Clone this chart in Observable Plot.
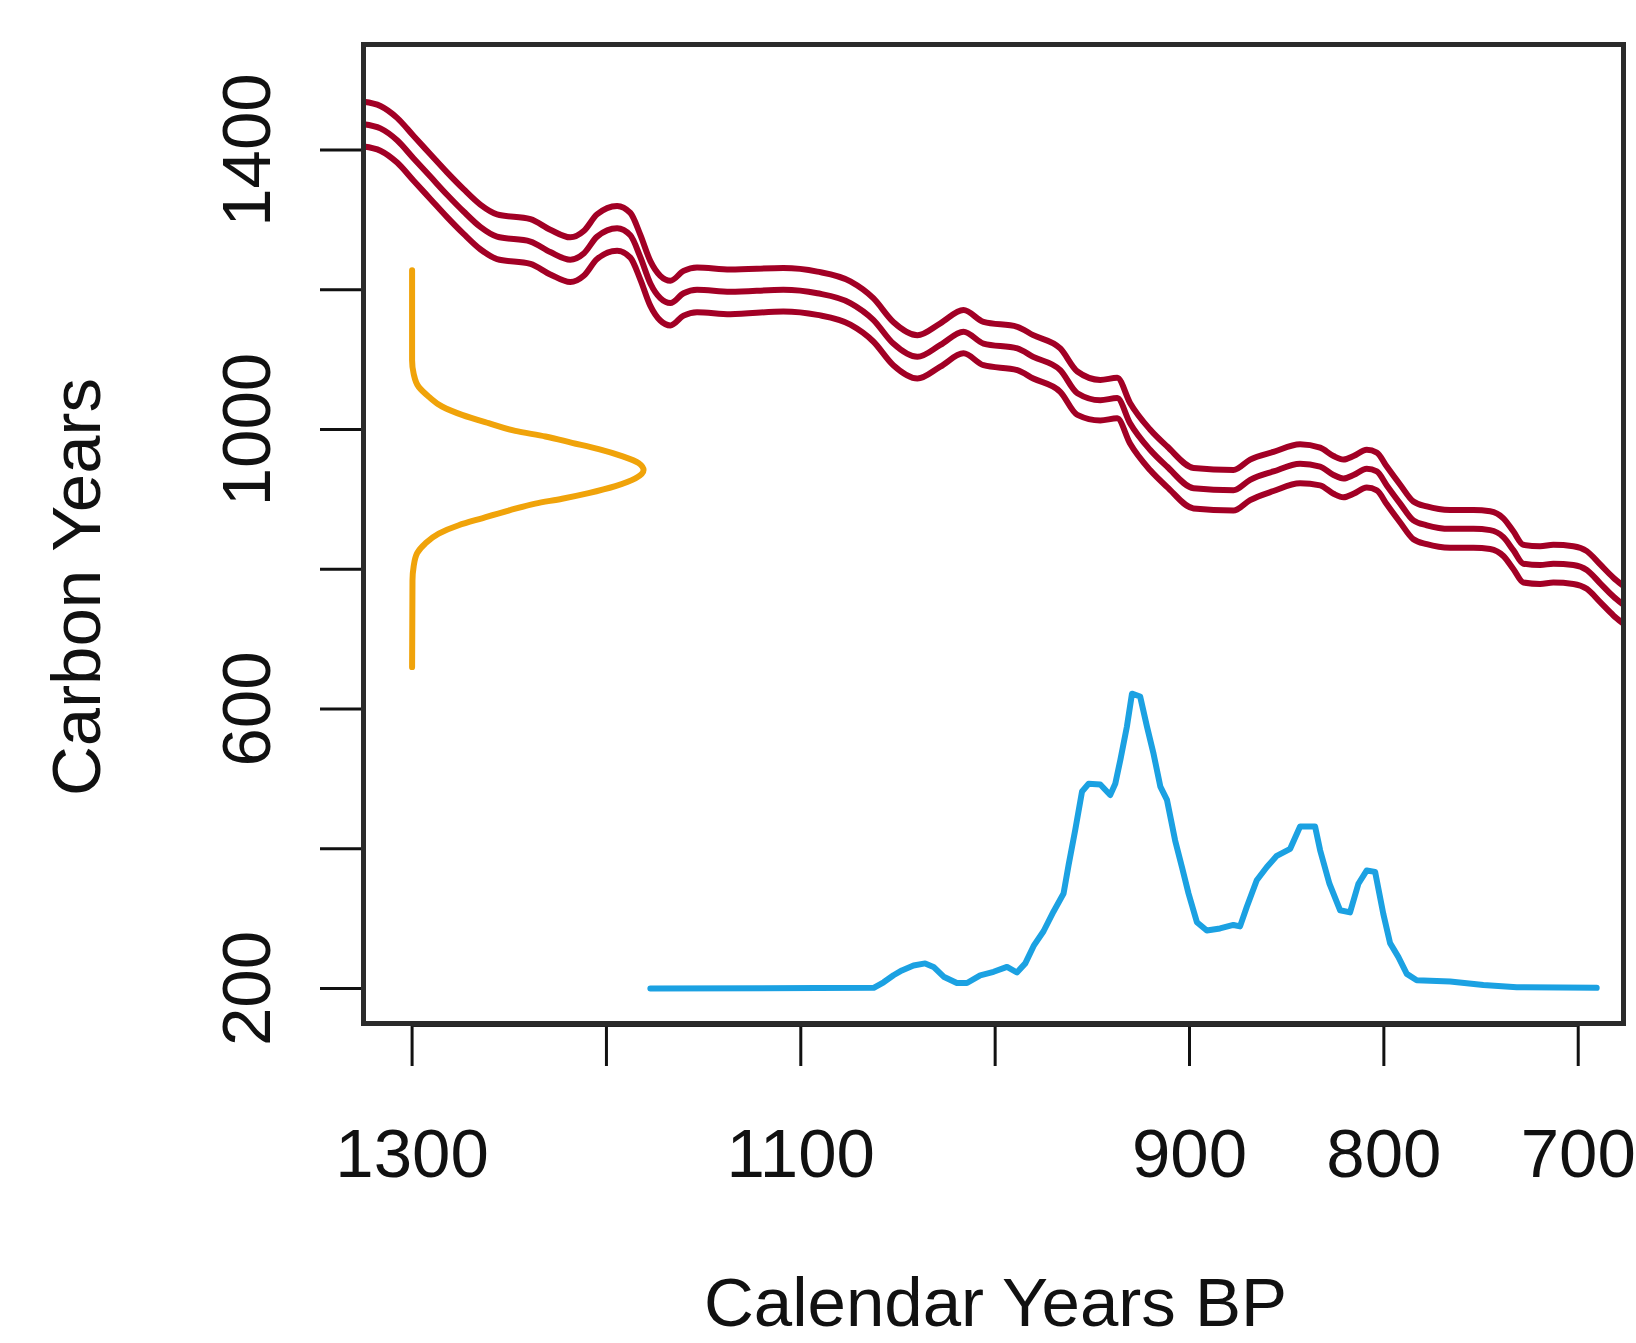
<!DOCTYPE html>
<html>
<head>
<meta charset="utf-8">
<script src="https://cdn.jsdelivr.net/npm/d3@7"></script>
<script src="https://cdn.jsdelivr.net/npm/@observablehq/plot@0.6"></script>
<style>
  html, body { margin: 0; padding: 0; background: #ffffff; }
  #chart svg { display: block; }
</style>
</head>
<body>
<div id="chart"></div>
<script>
// ---- axes ----
const xTicks = [1300, 1200, 1100, 1000, 900, 800, 700];
const xTickLabels = [1300, 1100, 900, 800, 700];
const yTicks = [200, 400, 600, 800, 1000, 1200, 1400];
const yTickLabels = [200, 600, 1000, 1400];
const xDomain = [1325, 676.7];
const yDomain = [150, 1551];
const xTitle = "Calendar Years BP";
const yTitle = "Carbon Years";

// ---- calibration curve (red): mean and half-width of band ----
const curveYears = [1324.9, 1316.3, 1307.7, 1299.2, 1290.6, 1282, 1273.5, 1264.9, 1256.3, 1239.1,
  1228.9, 1218.6, 1211.7, 1204.8, 1194.5, 1187.7, 1182.6, 1177.4, 1172.3, 1167.1,
  1160.3, 1153.4, 1136.3, 1109, 1091.5, 1074.5, 1062.7, 1052.4, 1040, 1028.2,
  1016.3, 1006, 988.6, 980.4, 966.5, 957.7, 945.9, 937.2, 930.6, 920.3,
  911.6, 897.9, 877.4, 868.8, 856.8, 843.1, 832.8, 825.9, 820.8, 815.6,
  808.8, 803.6, 798.5, 791.6, 784.8, 777.9, 765.9, 753.9, 745.3, 738.5,
  733.3, 728.2, 719.6, 712.8, 702.5, 695.6, 688.7, 681.9, 677.6];
const curveCarbon = [1437, 1431, 1414, 1388, 1362, 1336, 1312, 1290, 1276, 1269,
  1254, 1243, 1252, 1276, 1288, 1278, 1247, 1209, 1188, 1181,
  1195, 1200, 1197, 1200, 1195, 1181, 1157, 1123, 1104, 1121,
  1140, 1123, 1116, 1104, 1085, 1052, 1042, 1045, 1009, 971,
  947, 916, 913, 928, 940, 951, 947, 935, 930, 935,
  944, 940, 920, 894, 870, 863, 858, 858, 856, 846,
  827, 808, 806, 808, 806, 799, 780, 761, 751];
const curveSd = [32, 32, 32, 32, 32, 32, 32, 32, 32, 32,
  32, 32, 32, 32, 32, 32, 32, 32, 32, 32,
  32, 32, 32, 31, 31, 31, 31, 31, 31, 31,
  31, 31, 31, 31, 31, 31, 29, 29, 29, 29,
  29, 29, 29, 29, 28, 28, 27, 27, 27, 27,
  27, 27, 27, 27, 27, 27, 27, 27, 27, 27,
  27, 27, 27, 27, 27, 27, 27, 27, 27];

// ---- calibrated date density (blue), drawn on a baseline of 200 carbon years ----
const densityYears = [1177.4, 1062.5, 1057.4, 1052.3, 1048, 1042, 1036, 1031.7, 1026.5, 1019.7,
  1014.5, 1007.7, 1000.8, 993.9, 988.8, 984.5, 980.2, 975.1, 970, 964.8,
  962.2, 958.8, 955.3, 951.9, 945.9, 940.8, 938.2, 935.6, 932.2, 929.6,
  925.4, 921.9, 918.5, 915, 911.6, 907.4, 903.9, 900.5, 896.2, 891.1,
  884.3, 877.4, 874, 870.5, 865.4, 860.2, 855.1, 848.2, 843.1, 835.4,
  832.8, 828, 822.5, 817.4, 813.1, 808.8, 804.5, 800.3, 796.8, 792.5,
  788.2, 783.1, 765.9, 748.8, 731.6, 690.5];
const densityCarbon = [200, 201, 209, 219, 226, 233, 236, 231, 217, 208,
  208, 219, 224, 231, 223, 236, 261, 282, 310, 336,
  377, 427, 482, 493, 492, 477, 493, 527, 575, 622,
  618, 575, 536, 489, 470, 412, 374, 336, 295, 283,
  286, 291, 289, 317, 355, 374, 390, 400, 432, 432,
  398, 350, 312, 309, 350, 369, 367, 307, 265, 245,
  221, 212, 210, 205, 202, 201];

// ---- radiocarbon measurement (orange), drawn leftwards from a baseline at 1300 ----
const measuredBase = 1300;
const measuredCarbon = [1228, 1099, 1080, 1061, 1047, 1033, 1021, 1009, 998, 990,
  981, 972, 962, 952, 942, 930, 919, 909, 901, 894,
  884, 873, 863, 851, 837, 823, 804, 784, 660];
const measuredOffset = [0, 0, 0.8, 3.4, 8.6, 15.4, 25.7, 39.4, 53.1, 68.6,
  82.3, 96, 108, 116.6, 119.1, 114.9, 104.6, 90.8, 77.2, 63.4,
  49.7, 36, 24, 13.7, 6.8, 2.6, 0.8, 0.2, 0];

// ---- tables ----
const curve = curveYears.map((x, i) => ({x, c: curveCarbon[i], sd: curveSd[i]}));
const density = densityYears.map((x, i) => ({x, c: densityCarbon[i]}));
const measured = measuredCarbon.map((c, i) => ({x: measuredBase - measuredOffset[i], c}));

const RED = "#A20025", BLUE = "#1BA1E2", AMBER = "#F0A30A", INK = "#111111";
const FONT = "'Liberation Sans', Arial, Helvetica, sans-serif";

const chart = Plot.plot({
  width: 1636,
  height: 1343,
  marginLeft: 363,
  marginRight: 13,
  marginTop: 44,
  marginBottom: 320,
  style: {fontFamily: FONT, background: "#ffffff", color: INK},
  x: {domain: xDomain, label: null},
  y: {domain: yDomain, label: null},
  marks: [
    // calibration band
    Plot.line(curve, {x: "x", y: d => d.c + d.sd, stroke: RED, strokeWidth: 6, curve: "monotone-x", clip: true}),
    Plot.line(curve, {x: "x", y: "c", stroke: RED, strokeWidth: 6, curve: "monotone-x", clip: true}),
    Plot.line(curve, {x: "x", y: d => d.c - d.sd, stroke: RED, strokeWidth: 6, curve: "monotone-x", clip: true}),
    // measurement
    Plot.line(measured, {x: "x", y: "c", stroke: AMBER, strokeWidth: 6, curve: "monotone-y"}),
    // calibrated density
    Plot.line(density, {x: "x", y: "c", stroke: BLUE, strokeWidth: 6, curve: "linear"}),
    // axes
    Plot.axisX({ticks: xTicks, tickSize: 43, tickPadding: 61, strokeWidth: 3, stroke: INK,
      tickFormat: d => xTickLabels.includes(d) ? String(d) : "", fontSize: 69, label: null}),
    Plot.axisY({ticks: yTicks, tickSize: 43, strokeWidth: 3, stroke: INK,
      tickFormat: () => "", label: null}),
    Plot.text(yTickLabels, {y: d => d, text: d => String(d), frameAnchor: "left", dx: -116,
      rotate: -90, textAnchor: "middle", lineAnchor: "middle", fontSize: 69, fill: INK}),
    Plot.ruleY([yDomain[0]], {x1: xTicks[0], x2: xTicks[xTicks.length - 1], stroke: "#222", strokeWidth: 3, dy: 2}),
    Plot.ruleX([xDomain[0]], {y1: yTicks[0], y2: yTicks[yTicks.length - 1], stroke: "#222", strokeWidth: 3, dx: -1}),
    Plot.frame({stroke: "#2b2b2b", strokeWidth: 5}),
    // axis titles
    Plot.text([xTitle], {frameAnchor: "bottom", dy: 280, dx: 2, textAnchor: "middle", lineAnchor: "middle",
      fontSize: 69, fill: INK}),
    Plot.text([yTitle], {frameAnchor: "left", dx: -286, dy: 53, rotate: -90, textAnchor: "middle",
      lineAnchor: "middle", fontSize: 69, fill: INK})
  ]
});
document.getElementById("chart").appendChild(chart);
</script>
</body>
</html>
